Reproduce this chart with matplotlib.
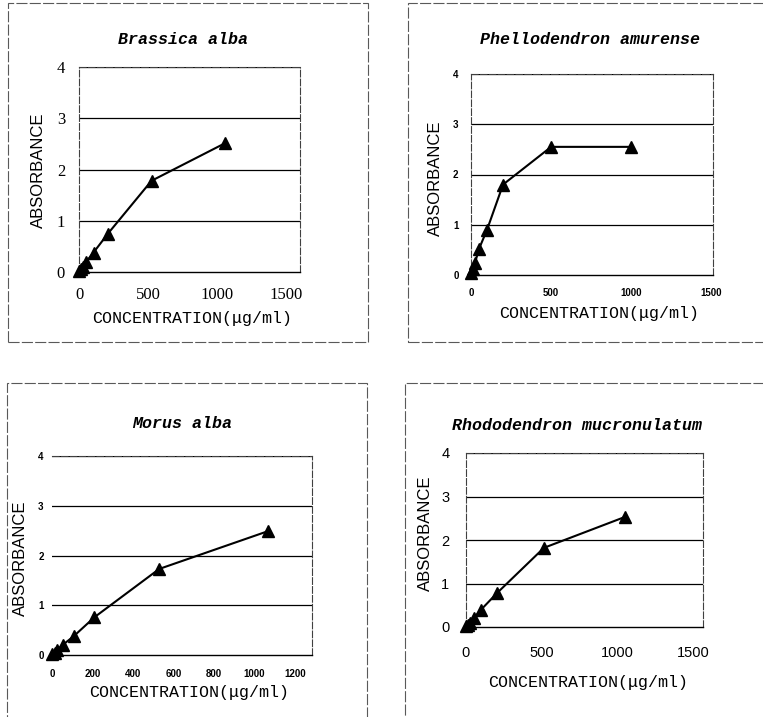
"""
Four absorbance vs concentration panels (2x2), each in its own dashed frame
"""
import matplotlib
matplotlib.use("Agg")
import matplotlib.pyplot as plt
from matplotlib.patches import Rectangle

W, H = 763, 717

# --- data ---
titles = ["Brassica alba", "Phellodendron amurense", "Morus alba", "Rhododendron mucronulatum"]

brassica_x = [0, 13, 26, 52, 105, 210, 525, 1055]
brassica_y = [0.02, 0.05, 0.1, 0.2, 0.38, 0.75, 1.78, 2.51]

phello_x = [0, 12, 25, 50, 100, 200, 500, 1000]
phello_y = [0.04, 0.12, 0.24, 0.52, 0.9, 1.8, 2.55, 2.55]

morus_x = [0, 13, 26, 52, 108, 210, 530, 1068]
morus_y = [0.02, 0.05, 0.1, 0.2, 0.38, 0.76, 1.73, 2.49]

rhodo_x = [0, 13, 26, 52, 100, 205, 515, 1050]
rhodo_y = [0.02, 0.05, 0.1, 0.2, 0.4, 0.78, 1.82, 2.53]

y_ticks = [0, 1, 2, 3, 4]
x_ticks_1500 = [0, 500, 1000, 1500]
x_ticks_1200 = [0, 200, 400, 600, 800, 1000, 1200]

xlabel = "CONCENTRATION(\u03bcg/ml)"
ylabel = "ABSORBANCE"

fig = plt.figure(figsize=(W / 100, H / 100), dpi=100)


def fx(px):
    return px / W


def fy(py):
    return 1 - py / H


def add_ax(left, top, right, bottom):
    return fig.add_axes([fx(left), fy(bottom), (right - left) / W, (bottom - top) / H])


# panel frames (pixel boxes: left, top, right, bottom)
frames = [(8, 3, 368, 342), (408, 3, 770, 342), (7, 383, 367, 725), (405, 383, 770, 725)]
for (l, t, r, b) in frames:
    fig.patches.append(Rectangle((fx(l), fy(b)), (r - l) / W, (b - t) / H,
                                 transform=fig.transFigure, fill=False,
                                 edgecolor="0.35", lw=0.8, ls=(0, (10, 2))))

panels = [
    # data, axes box, xlim, xticks, tick font, tick size, bold, ypad, xpad
    dict(x=brassica_x, y=brassica_y, box=(79, 67, 300, 272), xmax=1600, xt=x_ticks_1500,
         tfam="Liberation Serif", tsize=12, tw="normal", ypad=10, xpad=11,
         title_xy=(183, 39), xl_xy=(192, 319), yl_xy=(38, 170), left_spine=True),
    dict(x=phello_x, y=phello_y, box=(471, 74, 713, 275), xmax=1510, xt=x_ticks_1500,
         tfam="Liberation Sans", tsize=7, tw="bold", ypad=9, xpad=9,
         title_xy=(590, 39), xl_xy=(599, 314), yl_xy=(435, 178), left_spine=True),
    dict(x=morus_x, y=morus_y, box=(52, 456, 312, 655), xmax=1285, xt=x_ticks_1200,
         tfam="Liberation Sans", tsize=7, tw="bold", ypad=6, xpad=10,
         title_xy=(182, 424), xl_xy=(189, 693), yl_xy=(20, 558), left_spine=False),
    dict(x=rhodo_x, y=rhodo_y, box=(466, 453, 703, 627), xmax=1566, xt=x_ticks_1500,
         tfam="Liberation Sans", tsize=10.5, tw="normal", ypad=12, xpad=14,
         title_xy=(577, 425), xl_xy=(588, 683), yl_xy=(425, 533), left_spine=True),
]

for p, title in zip(panels, titles):
    ax = add_ax(*p["box"])
    ax.set_xlim(0, p["xmax"])
    ax.set_ylim(0, 4)
    ax.set_yticks(y_ticks)
    ax.set_xticks(p["xt"])
    ax.tick_params(length=0)
    ax.tick_params(axis="y", pad=p["ypad"])
    ax.tick_params(axis="x", pad=p["xpad"])
    for lab in ax.get_xticklabels() + ax.get_yticklabels():
        lab.set_fontfamily(p["tfam"])
        lab.set_fontsize(p["tsize"])
        lab.set_fontweight(p["tw"])

    # horizontal gridlines
    for v in y_ticks[1:]:
        ax.axhline(v, color="black", lw=0.9, zorder=1)

    for side in ["top", "right", "left"]:
        ax.spines[side].set_linestyle((0, (6, 2)))
        ax.spines[side].set_linewidth(0.8)
        ax.spines[side].set_color("0.25")
    ax.spines["bottom"].set_linewidth(1.0)
    ax.spines["left"].set_visible(p["left_spine"])

    ax.plot(p["x"], p["y"], color="black", lw=1.5, marker="^", markersize=9,
            clip_on=False, zorder=3)

    fig.text(fx(p["title_xy"][0]), fy(p["title_xy"][1]), title, ha="center", va="center",
             fontfamily="Liberation Mono", fontstyle="italic", fontweight="bold", fontsize=12)
    fig.text(fx(p["xl_xy"][0]), fy(p["xl_xy"][1]), xlabel, ha="center", va="center",
             fontfamily="Liberation Mono", fontsize=12)
    fig.text(fx(p["yl_xy"][0]), fy(p["yl_xy"][1]), ylabel, ha="center", va="center",
             rotation=90, fontfamily="Liberation Sans", fontsize=12)

fig.savefig("out.png", dpi=100)
